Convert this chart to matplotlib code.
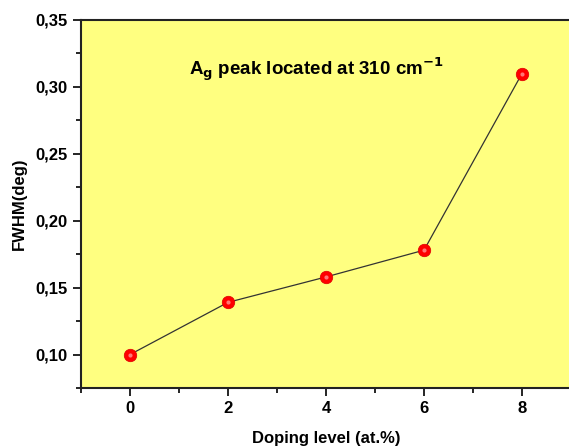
import matplotlib
matplotlib.use("Agg")
import matplotlib.pyplot as plt
from matplotlib.ticker import FuncFormatter, MultipleLocator

doping = [0, 2, 4, 6, 8]
fwhm = [0.100, 0.139, 0.158, 0.178, 0.310]

plt.rcParams['font.family'] = ['Liberation Sans', 'DejaVu Sans']
plt.rcParams['font.weight'] = 'bold'

fig = plt.figure(figsize=(5.69, 4.48), dpi=100)
ax = fig.add_axes([81/569, 1-388/448, 490/569, 368/448])
ax.set_facecolor('#FFFF80')

ax.plot(doping, fwhm, color='#333333', lw=0.9, zorder=2)
ax.plot(doping, fwhm, 'o', ms=9, mfc='#FF0000', mec='#DD0000', mew=0.5, zorder=3)
# little highlight on the balls
ax.plot(doping, fwhm, 'o', ms=3, mfc='#FF7777', mec='none', zorder=4)

ax.set_xlim(-1, 9)
ax.set_ylim(0.075, 0.35)
ax.xaxis.set_major_locator(MultipleLocator(2))
ax.xaxis.set_minor_locator(MultipleLocator(1))
ax.yaxis.set_major_locator(MultipleLocator(0.05))
ax.yaxis.set_minor_locator(MultipleLocator(0.025))
ax.yaxis.set_major_formatter(FuncFormatter(lambda v, p: ("%.2f" % v).replace('.', ',')))
ax.tick_params(which='major', direction='out', length=6, width=1.2, labelsize=12)
ax.tick_params(which='minor', direction='out', length=3.5, width=1.2)
for s in ['left', 'bottom', 'top']:
    ax.spines[s].set_linewidth(1.5)
    ax.spines[s].set_color('#222222')
ax.spines['right'].set_visible(False)

ax.set_xlabel("Doping level (at.%)", fontsize=12, fontweight='bold', labelpad=11)
ax.set_ylabel("FWHM(deg)", fontsize=12, fontweight='bold', labelpad=6)

ax.text(0.48, 0.865, r"A$_\mathbf{g}$ peak located at 310 cm$^\mathbf{-1}$",
        transform=ax.transAxes, ha='center', va='center', fontsize=13.5, fontweight='bold')

fig.savefig("out.png", dpi=100)
